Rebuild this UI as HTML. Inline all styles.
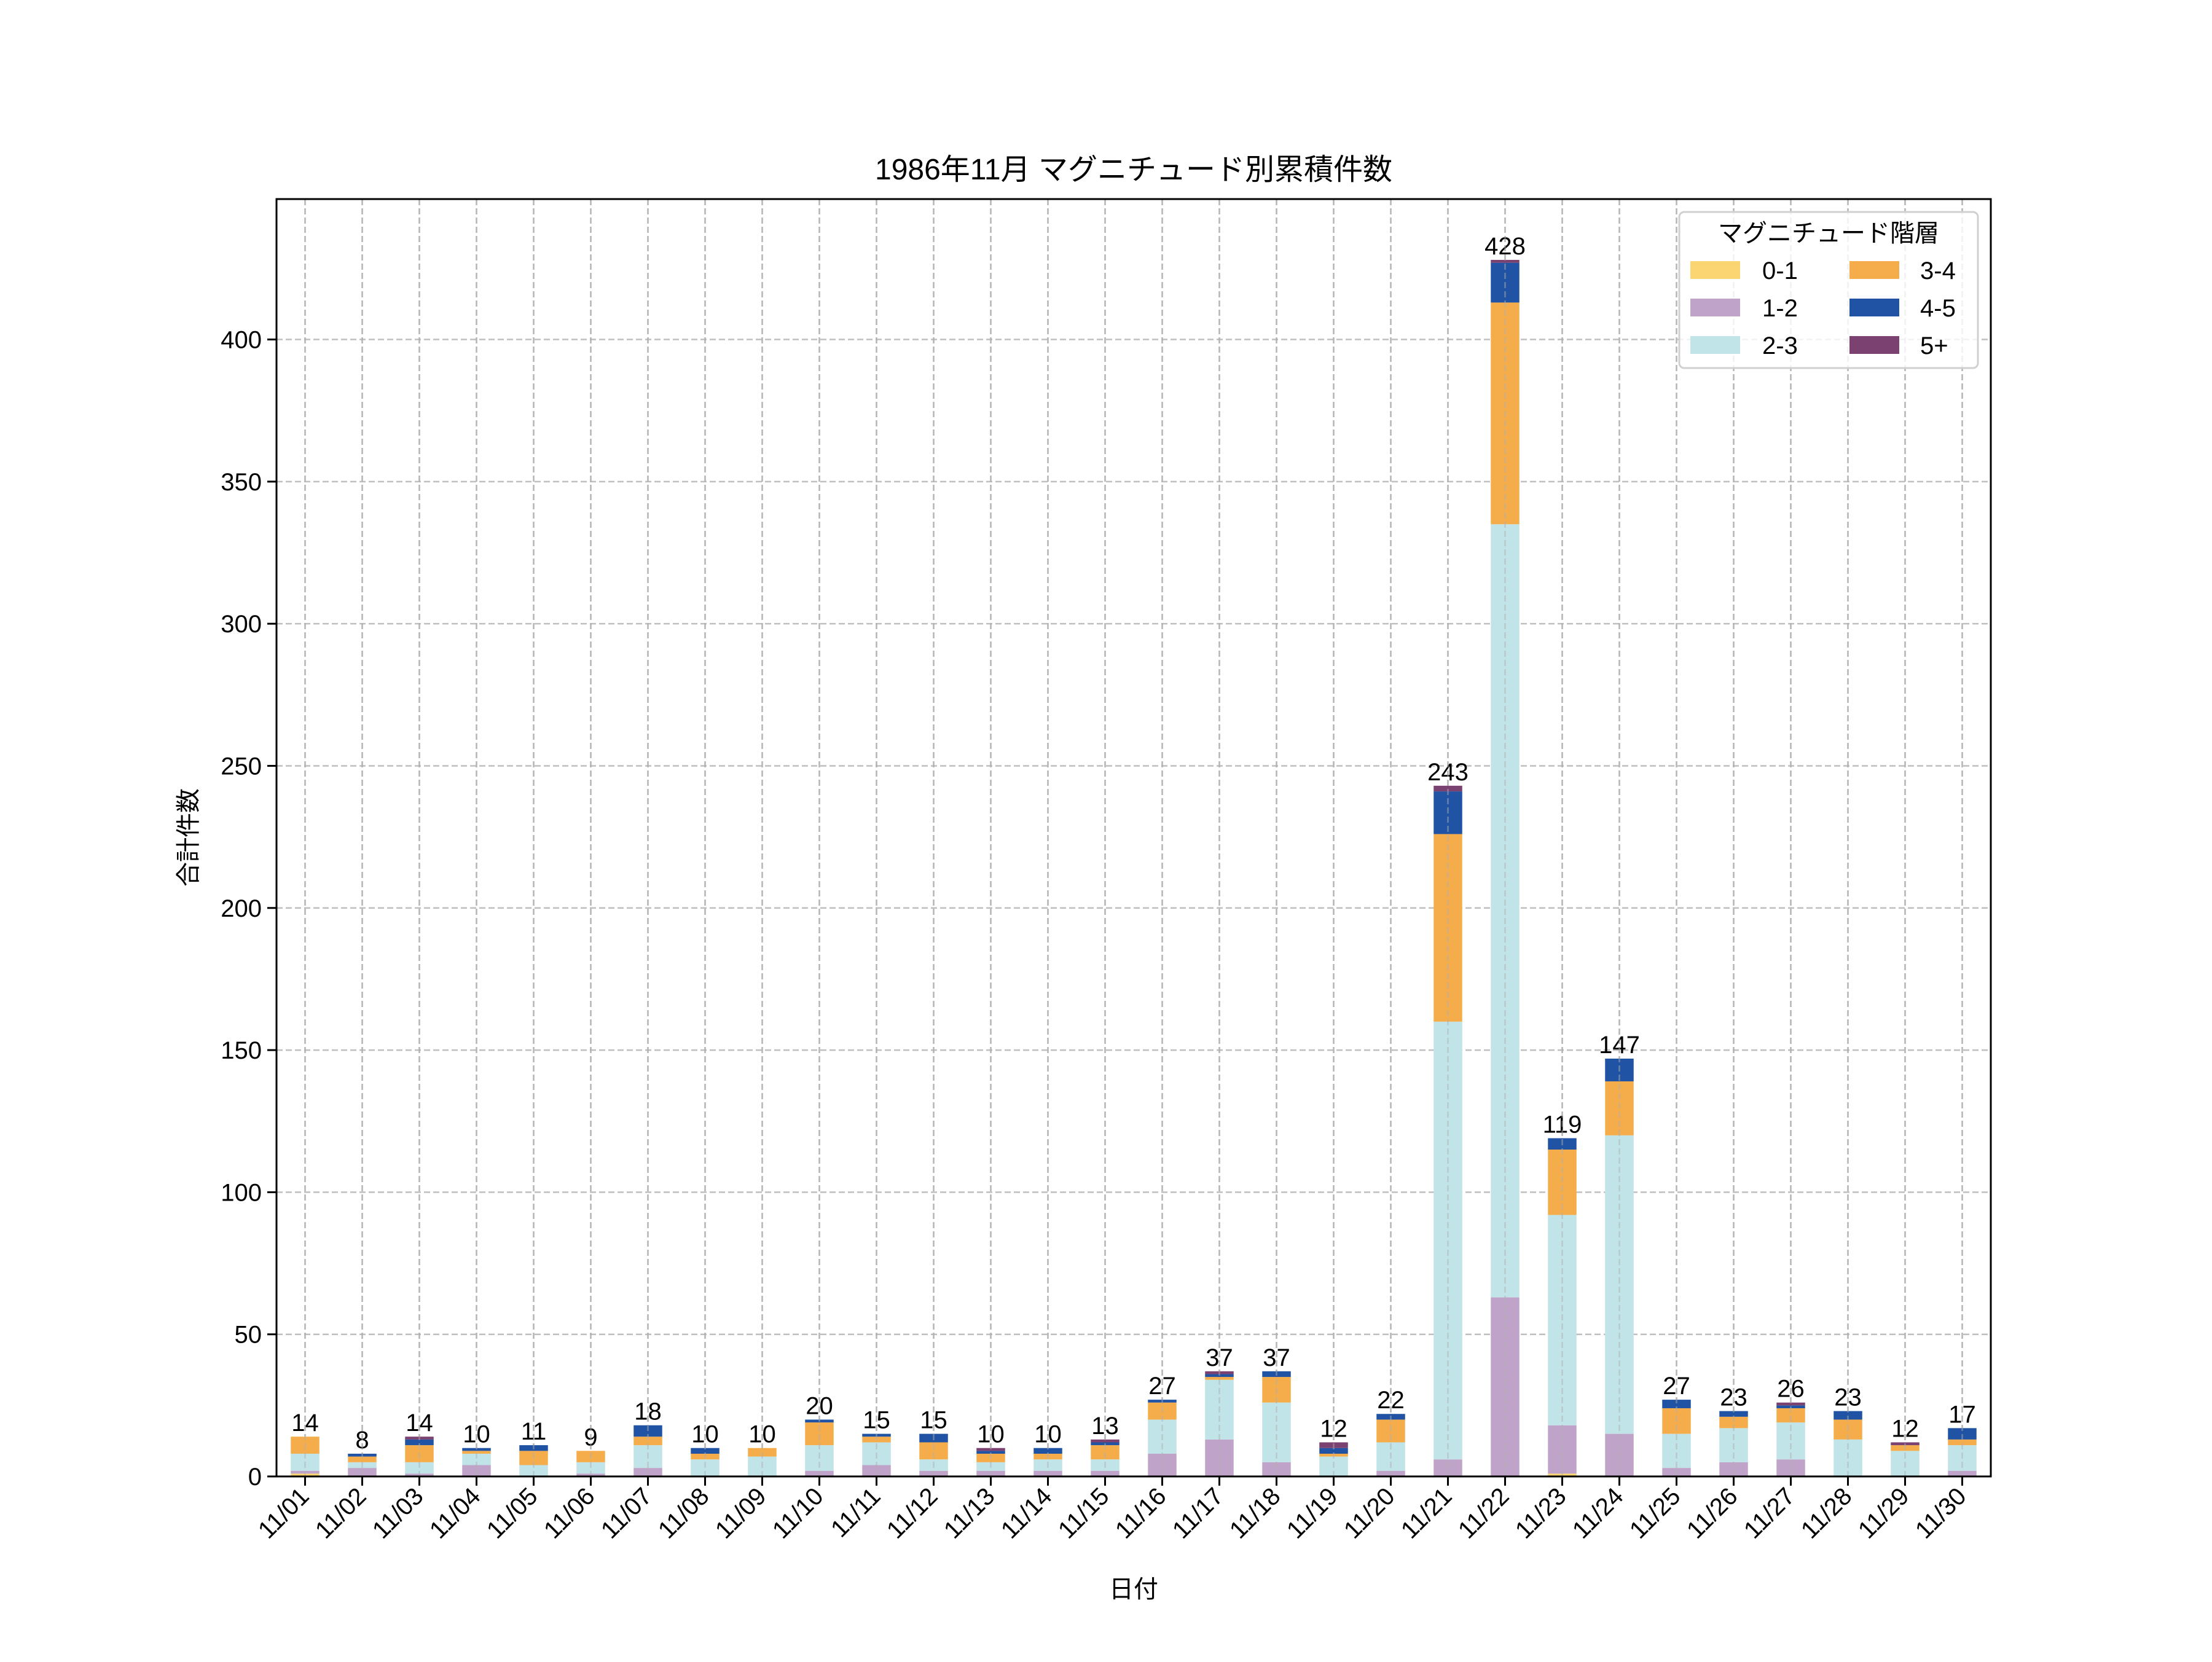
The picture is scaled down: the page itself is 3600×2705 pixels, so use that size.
<!DOCTYPE html>
<html><head><meta charset="utf-8"><style>
html,body{margin:0;padding:0;background:#fff;}
svg text{font-family:"Liberation Sans","Noto Sans CJK JP",sans-serif;fill:#000;}
</style></head><body>
<svg id="c" xmlns="http://www.w3.org/2000/svg" width="3600" height="2700" viewBox="0 0 3600 2700"></svg>
<script>
const data=[
[1,1,6,6,0,0],[0,3,2,2,1,0],[0,1,4,6,2,1],[0,4,4,1,1,0],[0,0,4,5,2,0],
[0,1,4,4,0,0],[0,3,8,3,4,0],[0,0,6,2,2,0],[0,0,7,3,0,0],[0,2,9,8,1,0],
[0,4,8,2,1,0],[0,2,4,6,3,0],[0,2,3,3,1,1],[0,2,4,2,2,0],[0,2,4,5,1,1],
[0,8,12,6,1,0],[0,13,21,1,1,1],[0,5,21,9,2,0],[0,0,7,1,2,2],[0,2,10,8,2,0],
[0,6,154,66,15,2],[0,63,272,78,14,1],[1,17,74,23,4,0],[0,15,105,19,8,0],[0,3,12,9,3,0],
[0,5,12,4,2,0],[0,6,13,5,1,1],[0,0,13,7,3,0],[0,0,9,2,0,1],[0,2,9,2,4,0]];
const cols=["#fbd571","#c0a3c8","#c1e4e8","#f5ad4b","#2053a3","#7b4170"];
const L=450,R=3240,T=324,B=2403,ymax=449.4,k=(B-T)/ymax,step=(R-L)/30;
let s='';
for(let v=50;v<=400;v+=50){const y=B-v*k;s+=`<line x1="${L}" x2="${R}" y1="${y}" y2="${y}" stroke="#b0b0b0" stroke-width="2.5" stroke-dasharray="10,5" opacity="0.8"/>`;}
for(let i=0;i<30;i++){const x=L+step*(i+0.5);s+=`<line x1="${x}" x2="${x}" y1="${T}" y2="${B}" stroke="#b0b0b0" stroke-width="2.5" stroke-dasharray="10,5" opacity="0.8"/>`;}
for(let i=0;i<30;i++){const x=L+step*(i+0.5);let c=0;const w=step*0.5;
 data[i].forEach((v,j)=>{if(v>0){s+=`<rect x="${x-w/2}" y="${B-(c+v)*k}" width="${w}" height="${v*k}" fill="${cols[j]}"/>`;}c+=v;});
 s+=`<text x="${x}" y="${B-c*k-9}" font-size="40" text-anchor="middle">${c}</text>`;
 const d=String(i+1).padStart(2,'0');
 s+=`<line x1="${x}" x2="${x}" y1="${B}" y2="${B+15}" stroke="#000" stroke-width="3"/>`;
 s+=`<text transform="translate(${x-11},${B+15}) rotate(-45)" font-size="40" text-anchor="end" dominant-baseline="hanging">11/${d}</text>`;
}
for(let i=0;i<30;i++){const x=L+step*(i+0.5);s+=`<line x1="${x}" x2="${x}" y1="${T}" y2="${B}" stroke="#b0b0b0" stroke-width="2.5" stroke-dasharray="10,5" opacity="0.5"/>`;}
for(let v=0;v<=400;v+=50){const y=B-v*k;s+=`<line x1="${L-15}" x2="${L}" y1="${y}" y2="${y}" stroke="#000" stroke-width="3"/><text x="${L-24}" y="${y+14}" font-size="40" text-anchor="end">${v}</text>`;}
s+=`<rect x="${L}" y="${T}" width="${R-L}" height="${B-T}" fill="none" stroke="#000" stroke-width="3"/>`;
s+=`<text x="1845" y="292" font-size="48" text-anchor="middle">1986年11月 マグニチュード別累積件数</text>`;
s+=`<text x="1845" y="2600" font-size="40" text-anchor="middle">日付</text>`;
s+=`<text transform="translate(320,1363) rotate(-90)" font-size="40" text-anchor="middle">合計件数</text>`;
s+=`<rect x="2733" y="345" width="486" height="254" rx="8" fill="#fff" fill-opacity="0.8" stroke="#d0d0d0" stroke-width="3"/>`;
s+=`<text x="2976" y="393" font-size="40" text-anchor="middle">マグニチュード階層</text>`;
const labs=["0-1","1-2","2-3","3-4","4-5","5+"];
for(let j=0;j<6;j++){const col=j<3?0:1,row=j%3;const px=col?3010:2751,lx=col?3125:2868,y=425+row*61;
 s+=`<rect x="${px}" y="${y}" width="81" height="29" fill="${cols[j]}"/><text x="${lx}" y="${y+29}" font-size="40">${labs[j]}</text>`;}
document.getElementById('c').innerHTML=s;
</script>
</body></html>
